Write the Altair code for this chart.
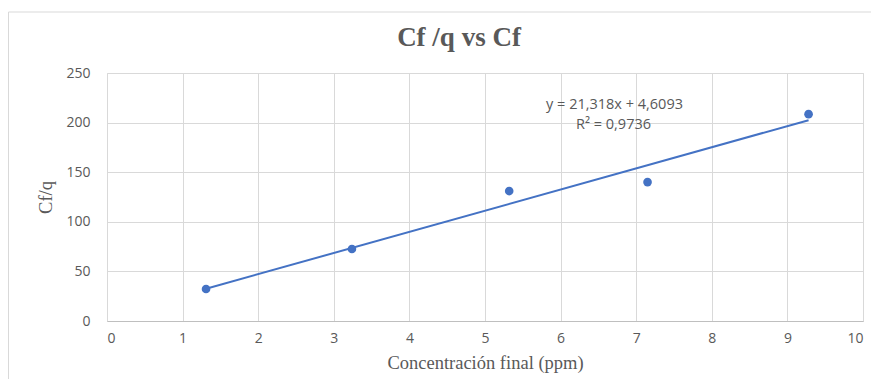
import altair as alt
import pandas as pd

# data
cf = [1.31, 3.24, 5.32, 7.15, 9.28]
cf_q = [32.3, 72.6, 131.0, 140.0, 208.5]
slope = 21.318
intercept = 4.6093
eq_lines = ["y = 21,318x + 4,6093", "R² = 0,9736"]
title_text = "Cf /q vs Cf"
x_title = "Concentración final (ppm)"
y_title = "Cf/q"

blue = "#4472C4"
gray_txt = "#595959"

pts = pd.DataFrame({"x": cf, "y": cf_q})
x0, x1 = min(cf), max(cf)
trend = pd.DataFrame({"x": [x0, x1], "y": [slope * x0 + intercept, slope * x1 + intercept]})

xs = alt.Scale(domain=[0, 10], nice=False)
ys = alt.Scale(domain=[0, 250], nice=False)

xax = alt.Axis(values=list(range(0, 11)), format="d", title=x_title, grid=True, gridColor="#d9d9d9",
               domainColor="#bfbfbf", ticks=False, labelFont="Open Sans", labelFontSize=14,
               labelColor=gray_txt, labelPadding=10, titleFont="Liberation Serif",
               titleFontSize=18.5, titleFontWeight="normal", titleColor=gray_txt, titlePadding=8)
yax = alt.Axis(values=list(range(0, 251, 50)), format="d", title=y_title, grid=True, gridColor="#d9d9d9",
               domain=False, ticks=False, labelFont="Open Sans", labelFontSize=14,
               labelColor=gray_txt, labelPadding=17, titleFont="Liberation Serif",
               titleFontSize=18.5, titleFontWeight="normal", titleColor=gray_txt, titlePadding=10)

line = alt.Chart(trend).mark_line(color=blue, strokeWidth=2).encode(
    x=alt.X("x:Q", scale=xs, axis=xax),
    y=alt.Y("y:Q", scale=ys, axis=yax),
)
points = alt.Chart(pts).mark_point(filled=True, size=75, color=blue, opacity=1).encode(
    x=alt.X("x:Q", scale=xs),
    y=alt.Y("y:Q", scale=ys),
)

eq_df = pd.DataFrame({"t": eq_lines, "px": [507.5, 506.5], "py": [32, 52]})
eq = alt.Chart(eq_df).mark_text(font="Open Sans", fontSize=14.5, color=gray_txt, align="center",
                                baseline="middle").encode(
    x=alt.X("px:Q", scale=None), y=alt.Y("py:Q", scale=None), text="t:N")

title = alt.Chart(pd.DataFrame({"t": [title_text]})).mark_text(
    font="Liberation Serif", fontSize=27, fontWeight="bold", color=gray_txt,
    align="center", baseline="middle").encode(
    x=alt.value(352), y=alt.value(-35), text="t:N")

frame = alt.Chart(pd.DataFrame({"a": [0]})).mark_rect(
    fill=None, stroke="#d9d9d9", strokeWidth=1).encode(
    x=alt.value(-98.5), x2=alt.value(800), y=alt.value(-61), y2=alt.value(330))

chart = alt.layer(frame, line, points, eq, title).properties(
    width=756, height=248,
    autosize=alt.AutoSizeParams(type="none"),
    padding={"left": 99, "top": 65, "right": 8, "bottom": 58},
).configure_view(stroke=None).configure(background="white")

chart.save("out.html", embed_options={"renderer": "svg", "actions": False})
